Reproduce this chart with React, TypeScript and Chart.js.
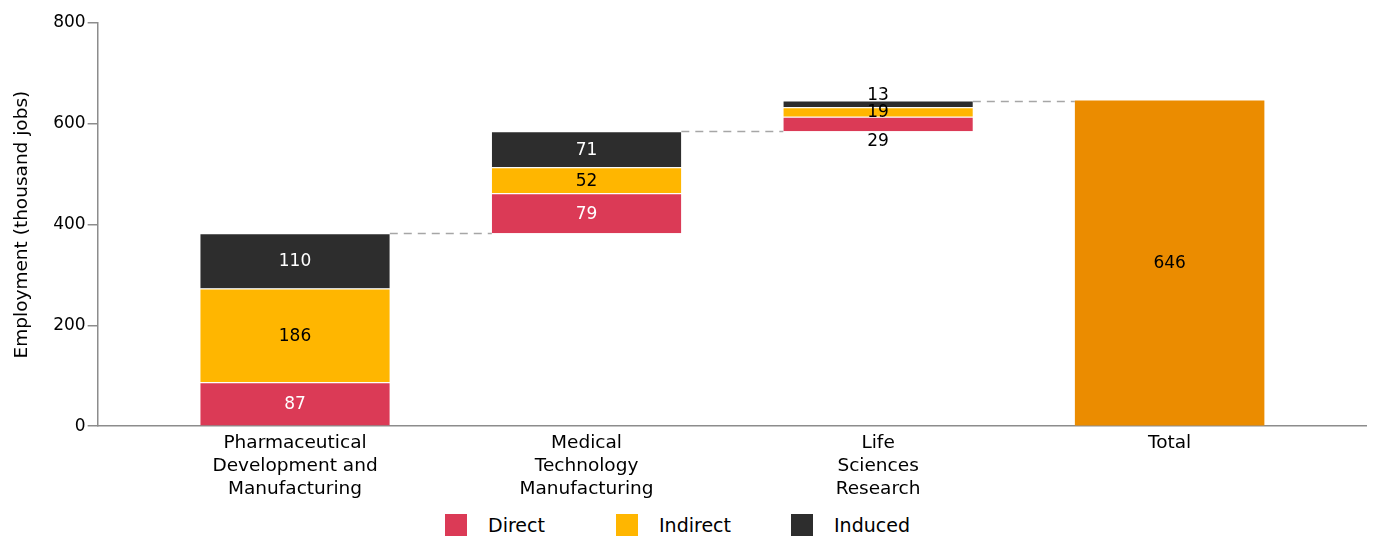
import React, { useEffect, useRef } from "react";
import { Chart, registerables } from "chart.js";

Chart.register(...registerables);

const categories: string[][] = [
  ["Pharmaceutical", "Development and", "Manufacturing"],
  ["Medical", "Technology", "Manufacturing"],
  ["Life", "Sciences", "Research"],
  ["Total"],
];
const directValues = [87, 79, 29];
const indirectValues = [186, 52, 19];
const inducedValues = [110, 71, 13];
const totalValue = 646;
const yTicks = [0, 200, 400, 600, 800];

const COLORS = {
  direct: "#db3a56",
  indirect: "#ffb600",
  induced: "#2d2d2d",
  total: "#eb8c00",
};

const FONT = "'DejaVu Sans', 'Liberation Sans', Arial, sans-serif";

const starts: number[] = [];
let run = 0;
for (let i = 0; i < directValues.length; i++) {
  starts.push(run);
  run += directValues[i] + indirectValues[i] + inducedValues[i];
}
const directData = directValues.map((v, i) => ({ x: i, y: [starts[i], starts[i] + v] }));
const indirectData = indirectValues.map((v, i) => ({
  x: i,
  y: [starts[i] + directValues[i], starts[i] + directValues[i] + v],
}));
const inducedData = inducedValues.map((v, i) => ({
  x: i,
  y: [starts[i] + directValues[i] + indirectValues[i], starts[i] + directValues[i] + indirectValues[i] + v],
}));
const totalData = [{ x: 3, y: [0, totalValue] }];

const connectorPlugin = {
  id: "connectors",
  beforeDatasetsDraw(chart: any) {
    const ctx = chart.ctx;
    const y = chart.scales.y;
    const metaInd = chart.getDatasetMeta(2);
    const metaTot = chart.getDatasetMeta(3);
    const bars = [...metaInd.data, ...metaTot.data];
    const vals = inducedData.map((d) => d.y[1]);
    ctx.save();
    ctx.strokeStyle = "#a6a6a6";
    ctx.lineWidth = 1.5;
    ctx.setLineDash([8, 6]);
    for (let i = 0; i < bars.length - 1; i++) {
      const a = bars[i];
      const b = bars[i + 1];
      const py = Math.round(y.getPixelForValue(vals[i])) + 0.5;
      ctx.beginPath();
      ctx.moveTo(a.x + a.width / 2, py);
      ctx.lineTo(b.x - b.width / 2, py);
      ctx.stroke();
    }
    ctx.restore();
  },
};

const labelPlugin = {
  id: "segLabels",
  afterDatasetsDraw(chart: any) {
    const ctx = chart.ctx;
    const sources = [directValues, indirectValues, inducedValues, [totalValue]];
    const colors = ["#ffffff", "#000000", "#ffffff", "#000000"];
    ctx.save();
    ctx.textAlign = "center";
    ctx.textBaseline = "middle";
    for (let d = 0; d < 4; d++) {
      const meta = chart.getDatasetMeta(d);
      meta.data.forEach((bar: any, i: number) => {
        const top = Math.min(bar.y, bar.base);
        const bottom = Math.max(bar.y, bar.base);
        const h = bottom - top;
        let ty = (top + bottom) / 2 + 1;
        let color = colors[d];
        if (h < 20 && d === 0) {
          ty = bottom + 10;
          color = "#000000";
        } else if (h < 20 && d === 2) {
          ty = top - 5;
          color = "#000000";
        } else if (h < 20) {
          color = "#000000";
        }
        ctx.fillStyle = color;
        ctx.font = "400 17px " + FONT;
        ctx.fillText(String(sources[d][i]), bar.x, ty);
      });
    }
    ctx.restore();
  },
};

export default function App() {
  const canvasRef = useRef<HTMLCanvasElement | null>(null);

  useEffect(() => {
    if (!canvasRef.current) return;
    const common = {
      grouped: false,
      barPercentage: 0.65,
      categoryPercentage: 1,
      borderColor: "#ffffff",
      borderWidth: { top: 1, bottom: 0, left: 0, right: 0 },
      borderSkipped: false,
    };
    const chart = new Chart(canvasRef.current, {
      type: "bar",
      data: {
        datasets: [
          { label: "Direct", data: directData, backgroundColor: COLORS.direct, ...common },
          { label: "Indirect", data: indirectData, backgroundColor: COLORS.indirect, ...common },
          { label: "Induced", data: inducedData, backgroundColor: COLORS.induced, ...common },
          { label: "Total", data: totalData, backgroundColor: COLORS.total, ...common, borderWidth: 0 },
        ] as any,
      },
      options: {
        animation: false,
        responsive: true,
        maintainAspectRatio: false,
        layout: { padding: { top: 15, right: 0, left: 3, bottom: 0 } },
        plugins: {
          legend: { display: false },
          tooltip: { enabled: false },
        },
        scales: {
          x: {
            type: "linear",
            offset: false,
            min: -0.677,
            max: 3.677,
            afterBuildTicks: (scale: any) => {
              scale.ticks = categories.map((_, i) => ({ value: i }));
            },
            ticks: {
              callback: (v: any) => categories[Number(v)] as any,
              color: "#000",
              font: { size: 18.5, family: FONT, lineHeight: 1.24 },
              maxRotation: 0,
              autoSkip: false,
              padding: 6,
            },
            grid: { display: false, drawTicks: false },
            border: { color: "#8c8c8c", width: 1.5 },
          },
          y: {
            min: 0,
            max: 800,
            afterBuildTicks: (scale: any) => {
              scale.ticks = yTicks.map((v) => ({ value: v }));
            },
            ticks: {
              color: "#000",
              font: { size: 17, family: FONT },
              padding: 2,
            },
            grid: {
              display: true,
              drawOnChartArea: false,
              drawTicks: true,
              tickLength: 10,
              color: "#8c8c8c",
              lineWidth: 1.5,
            },
            border: { color: "#8c8c8c", width: 1.5 },
            title: {
              display: true,
              text: "Employment (thousand jobs)",
              color: "#000",
              font: { size: 18.5, family: FONT },
              padding: { top: 0, bottom: 18 },
            },
          },
        },
      } as any,
      plugins: [connectorPlugin, labelPlugin],
    });
    return () => chart.destroy();
  }, []);

  const legendItems = [
    { label: "Direct", color: COLORS.direct },
    { label: "Indirect", color: COLORS.indirect },
    { label: "Induced", color: COLORS.induced },
  ];

  return (
    <div
      style={{
        position: "relative",
        width: 1359,
        height: 529,
        fontFamily: FONT,
      }}
    >
      <div style={{ position: "absolute", left: 0, top: 0, width: 1359, height: 499 }}>
        <canvas ref={canvasRef} />
      </div>
      {legendItems.map((it, i) => (
        <div
          key={it.label}
          style={{
            position: "absolute",
            left: [437, 608, 783][i],
            top: 506,
            height: 22,
            display: "flex",
            alignItems: "center",
          }}
        >
          <span
            style={{ display: "inline-block", width: 22, height: 22, background: it.color, marginRight: 21 }}
          />
          <span style={{ fontSize: 19, lineHeight: "22px", color: "#000" }}>{it.label}</span>
        </div>
      ))}
    </div>
  );
}
